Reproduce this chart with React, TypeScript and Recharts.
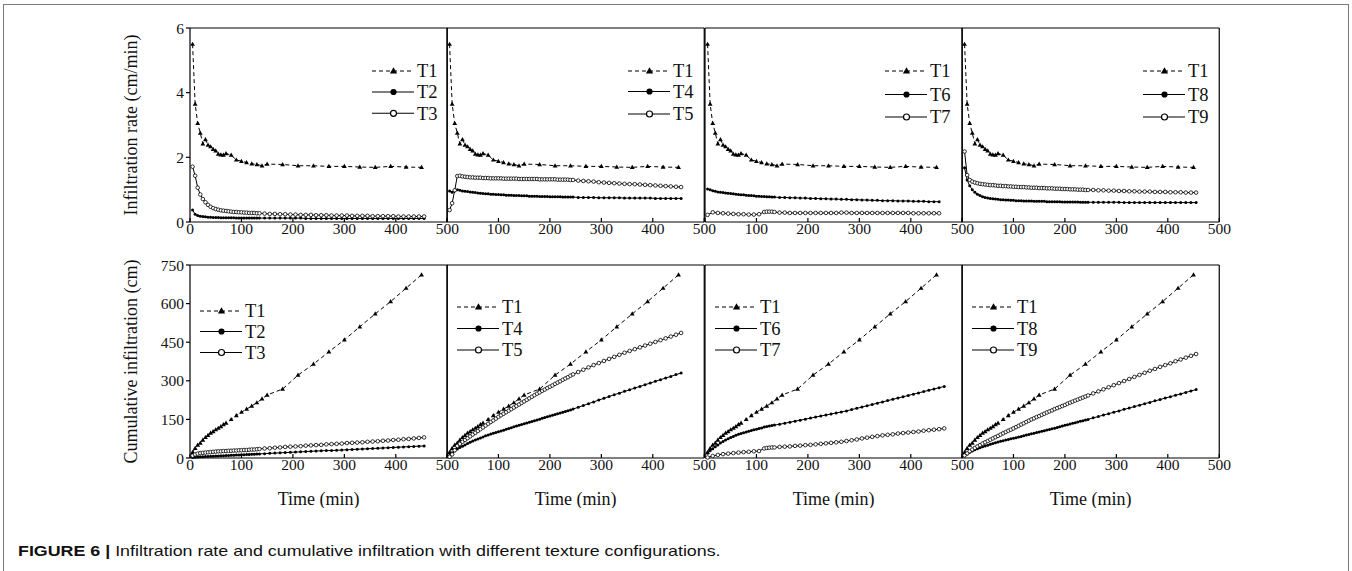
import React from 'react';
import { LineChart, Line, XAxis, YAxis, ReferenceLine, Legend } from 'recharts';

const FONT = '"Liberation Serif", "Times New Roman", serif';
const INK = '#111';

// sampling times (min)
const tT1 = [5, 10, 15, 20, 25, 30, 35, 40, 45, 50, 55, 60, 65, 70, 80, 90, 100, 110, 120, 130, 140, 150, 180, 210, 240, 270, 300, 330, 360, 390, 420, 450];
const tShort = [5, 10, 15, 20, 25, 30, 35, 40, 45, 50, 55, 60, 65, 70, 75, 80, 85, 90, 95, 100, 105, 110, 115, 120, 125, 130, 135,
  145, 155, 165, 175, 185, 195, 205, 215, 225, 235, 245, 255, 265, 275, 285, 295, 305, 315, 325, 335, 345, 355, 365, 375, 385, 395, 405, 415, 425, 435, 445, 455];
const tLong = [5, 10, 15, 20, 25, 30, 35, 40, 45, 50, 55, 60, 65, 70, 75, 80, 85, 90, 95, 100, 105, 110, 115, 120, 125, 130, 135, 140, 145, 150,
  155, 160, 165, 170, 175, 180, 185, 190, 195, 200, 205, 210, 215, 220, 225, 230, 235, 240, 245,
  255, 265, 275, 285, 295, 305, 315, 325, 335, 345, 355, 365, 375, 385, 395, 405, 415, 425, 435, 445, 455];
const tT7 = [5, 15, 25, 35, 45, 55, 65, 75, 85, 95, 105, 115, 120, 125, 130, 135,
  145, 155, 165, 175, 185, 195, 205, 215, 225, 235, 245, 255, 265, 275, 285, 295, 305, 315, 325, 335, 345, 355, 365, 375, 385, 395, 405, 415, 425, 435, 445, 455];
const tShortB = [5, 10, 15, 20, 25, 30, 35, 40, 45, 50, 55, 60, 65, 70, 75, 80, 85, 90, 95, 100, 105, 110, 115, 120, 125, 130, 135,
  145, 155, 165, 175, 185, 195, 205, 215, 225, 235, 245, 255, 265, 275, 285, 295, 305, 315, 325, 335, 345, 355, 365, 375, 385, 395, 405, 415, 425, 435, 445, 455, 465];
const tT7B = [5, 15, 25, 35, 45, 55, 65, 75, 85, 95, 105, 115, 120, 125, 130, 135,
  145, 155, 165, 175, 185, 195, 205, 215, 225, 235, 245, 255, 265, 275, 285, 295, 305, 315, 325, 335, 345, 355, 365, 375, 385, 395, 405, 415, 425, 435, 445, 455, 465];

// infiltration rate (cm/min)
const rateT1 = [5.5, 3.65, 3.05, 2.75, 2.42, 2.55, 2.38, 2.33, 2.25, 2.2, 2.1, 2.08, 2.07, 2.12, 2.07, 1.92, 1.88, 1.84, 1.8, 1.78, 1.74, 1.79, 1.78, 1.74, 1.74, 1.72, 1.72, 1.7, 1.69, 1.72, 1.7, 1.69];
const rateT2 = [0.37, 0.24, 0.2, 0.18, 0.17, 0.16, 0.15, 0.15, 0.14, 0.14, 0.14, 0.13, 0.13, 0.13, 0.13, 0.13, 0.13, 0.12, 0.12, 0.12, 0.12, 0.12, 0.12, 0.12, 0.12, 0.12, 0.12,
  0.12, 0.12, 0.12, 0.12, 0.12, 0.12, 0.12, 0.12, 0.11, 0.11, 0.11, 0.11, 0.11, 0.11, 0.11, 0.11, 0.11, 0.11, 0.11, 0.11, 0.11, 0.11, 0.11, 0.11, 0.11, 0.11, 0.11, 0.11, 0.11, 0.11, 0.11, 0.11];
const rateT3 = [1.71, 1.43, 1.06, 0.85, 0.71, 0.61, 0.53, 0.47, 0.43, 0.4, 0.38, 0.36, 0.35, 0.34, 0.33, 0.32, 0.31, 0.31, 0.3, 0.3, 0.29, 0.29, 0.28, 0.28, 0.28, 0.27, 0.27,
  0.26, 0.25, 0.25, 0.24, 0.24, 0.23, 0.23, 0.22, 0.22, 0.22, 0.21, 0.21, 0.21, 0.2, 0.2, 0.2, 0.2, 0.19, 0.19, 0.19, 0.19, 0.18, 0.18, 0.18, 0.18, 0.18, 0.17, 0.17, 0.17, 0.17, 0.17, 0.17];
const rateT4 = [0.96, 0.92, 0.97, 1.0, 0.98, 0.96, 0.95, 0.94, 0.93, 0.92, 0.91, 0.9, 0.89, 0.88, 0.87, 0.87, 0.86, 0.86, 0.85, 0.85, 0.84, 0.84, 0.83, 0.83, 0.83,
  0.82, 0.82, 0.82, 0.81, 0.81, 0.81, 0.8, 0.8, 0.8, 0.8, 0.79, 0.79, 0.79, 0.79, 0.78, 0.78, 0.78, 0.78, 0.78, 0.77, 0.77, 0.77, 0.77, 0.77,
  0.76, 0.76, 0.76, 0.76, 0.75, 0.75, 0.75, 0.75, 0.75, 0.74, 0.74, 0.74, 0.74, 0.74, 0.74, 0.73, 0.73, 0.73, 0.73, 0.73, 0.73];
const rateT5 = [0.37, 0.58, 0.98, 1.42, 1.43, 1.41, 1.4, 1.39, 1.38, 1.38, 1.37, 1.37, 1.37, 1.36, 1.36, 1.36, 1.35, 1.35, 1.35, 1.35, 1.35, 1.34, 1.34, 1.34, 1.34,
  1.34, 1.34, 1.33, 1.33, 1.33, 1.33, 1.33, 1.33, 1.33, 1.33, 1.32, 1.32, 1.32, 1.32, 1.32, 1.32, 1.32, 1.31, 1.31, 1.31, 1.31, 1.31, 1.3, 1.3,
  1.28, 1.27, 1.26, 1.25, 1.23, 1.22, 1.21, 1.2, 1.19, 1.18, 1.17, 1.17, 1.16, 1.15, 1.14, 1.13, 1.12, 1.11, 1.1, 1.09, 1.08];
const rateT6 = [1.02, 1.0, 0.97, 0.95, 0.93, 0.92, 0.91, 0.9, 0.89, 0.88, 0.87, 0.86, 0.85, 0.84, 0.84, 0.83, 0.82, 0.82, 0.81, 0.8, 0.8, 0.79, 0.79, 0.78, 0.78, 0.77, 0.77,
  0.76, 0.76, 0.75, 0.75, 0.74, 0.74, 0.73, 0.73, 0.72, 0.72, 0.71, 0.71, 0.7, 0.7, 0.69, 0.69, 0.68, 0.68, 0.67, 0.67, 0.66, 0.66, 0.66, 0.65, 0.65, 0.65, 0.64, 0.64, 0.64, 0.63, 0.63, 0.63];
const rateT7 = [0.22, 0.3, 0.28, 0.27, 0.26, 0.25, 0.24, 0.24, 0.23, 0.23, 0.24, 0.31, 0.32, 0.32, 0.32, 0.31,
  0.29, 0.29, 0.28, 0.28, 0.28, 0.28, 0.28, 0.28, 0.28, 0.28, 0.28, 0.28, 0.29, 0.29, 0.28, 0.28, 0.28, 0.28, 0.28, 0.28, 0.28, 0.28, 0.28, 0.28, 0.28, 0.28, 0.27, 0.27, 0.27, 0.27, 0.27, 0.27];
const rateT8 = [1.68, 1.3, 1.12, 1.0, 0.92, 0.86, 0.82, 0.78, 0.76, 0.74, 0.73, 0.72, 0.71, 0.7, 0.69, 0.69, 0.68, 0.68, 0.67, 0.67, 0.66, 0.66, 0.66, 0.65, 0.65,
  0.65, 0.65, 0.64, 0.64, 0.64, 0.64, 0.64, 0.63, 0.63, 0.63, 0.63, 0.63, 0.63, 0.62, 0.62, 0.62, 0.62, 0.62, 0.62, 0.62, 0.61, 0.61, 0.61, 0.61,
  0.61, 0.61, 0.61, 0.61, 0.61, 0.61, 0.6, 0.6, 0.6, 0.6, 0.6, 0.6, 0.6, 0.6, 0.6, 0.6, 0.6, 0.6, 0.6, 0.6, 0.6];
const rateT9 = [2.18, 1.45, 1.3, 1.25, 1.22, 1.2, 1.18, 1.17, 1.16, 1.15, 1.14, 1.14, 1.13, 1.12, 1.12, 1.11, 1.11, 1.1, 1.1, 1.09, 1.09, 1.08, 1.08, 1.08, 1.07,
  1.07, 1.06, 1.06, 1.06, 1.05, 1.05, 1.05, 1.04, 1.04, 1.04, 1.03, 1.03, 1.03, 1.02, 1.02, 1.02, 1.01, 1.01, 1.01, 1.0, 1.0, 1.0, 0.99, 0.99,
  0.99, 0.98, 0.98, 0.97, 0.97, 0.96, 0.96, 0.95, 0.95, 0.94, 0.94, 0.94, 0.93, 0.93, 0.93, 0.92, 0.92, 0.92, 0.91, 0.91, 0.91];

// cumulative infiltration (cm)
const cumT1 = [22, 38, 50, 58, 70, 80, 88, 97, 103, 110, 116, 122, 130, 136, 150, 165, 178, 190, 202, 215, 230, 245, 268, 322, 365, 413, 459, 510, 560, 608, 660, 712];
const cumT2 = [2, 3, 4, 5, 5, 6, 6, 7, 7, 8, 8, 9, 9, 10, 10, 11, 11, 12, 12, 13, 13, 14, 14, 15, 15, 16, 16,
  17, 18, 19, 20, 21, 22, 23, 24, 25, 26, 27, 28, 29, 29, 30, 31, 32, 33, 34, 35, 36, 37, 38, 39, 40, 41, 42, 43, 44, 45, 46, 47];
const cumT3 = [9, 14, 17, 19, 20, 21, 22, 23, 24, 25, 26, 26, 27, 27, 28, 28, 29, 29, 30, 30, 31, 31, 32, 33, 33, 34, 35,
  37, 38, 40, 41, 43, 44, 45, 46, 48, 49, 50, 51, 53, 54, 55, 56, 58, 59, 60, 61, 63, 64, 65, 67, 68, 70, 71, 73, 74, 76, 78, 80];
const cumT4 = [10, 20, 28, 35, 41, 46, 51, 56, 61, 66, 70, 74, 78, 82, 86, 89, 93, 96, 99, 102, 105, 108, 112, 115, 118,
  121, 124, 127, 130, 133, 136, 139, 142, 145, 148, 151, 154, 157, 160, 163, 166, 169, 172, 175, 178, 181, 184, 187, 190,
  197, 204, 211, 218, 225, 232, 239, 246, 252, 259, 265, 272, 278, 285, 291, 298, 304, 311, 317, 324, 330];
const cumT5 = [5, 14, 30, 47, 55, 63, 70, 77, 84, 91, 98, 105, 112, 119, 126, 133, 140, 146, 153, 160, 166, 172, 178, 184, 190,
  196, 202, 208, 214, 220, 226, 232, 238, 244, 250, 255, 261, 266, 272, 277, 282, 288, 293, 298, 304, 309, 314, 320, 325,
  334, 343, 352, 361, 369, 377, 385, 393, 401, 409, 416, 423, 430, 437, 444, 451, 458, 465, 472, 479, 486];
const cumT6 = [18, 28, 36, 44, 51, 58, 64, 70, 75, 80, 84, 88, 92, 95, 98, 101, 104, 107, 110, 112, 115, 117, 120, 122, 124, 126, 128,
  131, 135, 139, 143, 147, 151, 155, 159, 163, 167, 171, 175, 179, 183, 188, 193, 198, 203, 208, 213, 218, 223, 228, 233, 238, 243, 248, 253, 258, 263, 268, 273, 278];
const cumT7 = [2, 8, 12, 15, 17, 19, 21, 23, 24, 26, 27, 37, 39, 40, 41, 41,
  43, 44, 45, 47, 48, 50, 51, 53, 55, 57, 59, 61, 63, 66, 69, 72, 76, 79, 82, 85, 88, 90, 92, 95, 97, 99, 101, 103, 106, 108, 110, 112, 115];
const cumT8 = [8, 16, 22, 27, 32, 36, 40, 44, 47, 50, 53, 56, 59, 62, 65, 67, 70, 72, 75, 77, 79, 82, 84, 86, 89,
  91, 94, 96, 99, 101, 104, 106, 109, 111, 114, 116, 119, 121, 124, 127, 129, 132, 135, 137, 140, 143, 145, 148, 150,
  156, 161, 167, 172, 178, 183, 189, 194, 200, 205, 211, 216, 222, 227, 233, 238, 244, 249, 255, 260, 266];
const cumT9 = [10, 18, 26, 33, 39, 45, 50, 56, 61, 66, 71, 76, 81, 86, 91, 96, 101, 106, 110, 115, 120, 125, 130, 135, 140,
  145, 150, 154, 159, 163, 168, 172, 177, 181, 185, 190, 194, 198, 202, 206, 211, 215, 219, 223, 227, 231, 235, 239, 243,
  251, 259, 267, 275, 283, 291, 299, 307, 315, 323, 331, 339, 346, 354, 361, 368, 376, 383, 390, 397, 404];

const xTicks = [0, 100, 200, 300, 400, 500];
const rateTicks = [0, 2, 4, 6];
const cumTicks = [0, 150, 300, 450, 600, 750];

type Mark = 'tri' | 'dot' | 'ring';
type Series = { name: string; t: number[]; v: number[]; mark: Mark };

const ser = (name: string, t: number[], v: number[], mark: Mark): Series => ({ name, t, v, mark });

const ratePanels: Series[][] = [
  [ser('T1', tT1, rateT1, 'tri'), ser('T2', tShort, rateT2, 'dot'), ser('T3', tShort, rateT3, 'ring')],
  [ser('T1', tT1, rateT1, 'tri'), ser('T4', tLong, rateT4, 'dot'), ser('T5', tLong, rateT5, 'ring')],
  [ser('T1', tT1, rateT1, 'tri'), ser('T6', tShort, rateT6, 'dot'), ser('T7', tT7, rateT7, 'ring')],
  [ser('T1', tT1, rateT1, 'tri'), ser('T8', tLong, rateT8, 'dot'), ser('T9', tLong, rateT9, 'ring')],
];
const cumPanels: Series[][] = [
  [ser('T1', tT1, cumT1, 'tri'), ser('T2', tShort, cumT2, 'dot'), ser('T3', tShort, cumT3, 'ring')],
  [ser('T1', tT1, cumT1, 'tri'), ser('T4', tLong, cumT4, 'dot'), ser('T5', tLong, cumT5, 'ring')],
  [ser('T1', tT1, cumT1, 'tri'), ser('T6', tShortB, cumT6, 'dot'), ser('T7', tT7B, cumT7, 'ring')],
  [ser('T1', tT1, cumT1, 'tri'), ser('T8', tLong, cumT8, 'dot'), ser('T9', tLong, cumT9, 'ring')],
];

// layout (page pixels)
const PLOT_X0 = 190;
const PLOT_W = 257.25;
const MR = 22;
const ROWS = {
  rate: {
    top: 28, h: 194, xh: 30, max: 6, ticks: rateTicks, title: 'Infiltration rate (cm/min)', panels: ratePanels,
    legends: [
      { x: 371.7, rows: [71, 92, 113.3] },
      { x: 628.3, rows: [71, 91.5, 114] },
      { x: 885.3, rows: [70.5, 94, 116.5] },
      { x: 1143.3, rows: [70.5, 94, 116.5] },
    ],
  },
  cum: {
    top: 265, h: 193, xh: 50, max: 750, ticks: cumTicks, title: 'Cumulative infiltration (cm)', panels: cumPanels,
    legends: [
      { x: 200, rows: [311, 331.5, 352.5] },
      { x: 456.7, rows: [307, 328.5, 350] },
      { x: 715, rows: [307, 328.5, 350] },
      { x: 971.7, rows: [307, 328.5, 350] },
    ],
  },
};

function Marker({ cx, cy, mark, big }: { cx?: number; cy?: number; mark: Mark; big?: boolean }) {
  if (cx == null || cy == null) return <g />;
  if (mark === 'tri') {
    const w = big ? 3.6 : 2.4;
    const h = big ? 6.4 : 4.2;
    return <path d={`M${cx},${cy - h * 0.6}L${cx + w},${cy + h * 0.4}L${cx - w},${cy + h * 0.4}Z`} fill="#000" />;
  }
  if (mark === 'dot') return <circle cx={cx} cy={cy} r={big ? 3.1 : 1.5} fill="#000" />;
  return <circle cx={cx} cy={cy} r={big ? 3 : 1.8} fill="#fff" stroke="#000" strokeWidth={big ? 1.2 : 0.8} />;
}

function LegendBox({ series, rows }: { series: Series[]; rows: number[] }) {
  const y0 = rows[0] - 10;
  return (
    <svg width={90} height={rows[2] - rows[0] + 20} style={{ display: 'block', overflow: 'visible' }}>
      {series.map((sr, k) => {
        const y = rows[k] - y0;
        return (
          <g key={sr.name}>
            <line x1={0} x2={42} y1={y} y2={y} stroke="#000" strokeWidth={1.1}
              strokeDasharray={sr.mark === 'tri' ? '4 3' : undefined} />
            <Marker cx={21.5} cy={y} mark={sr.mark} big />
            <text x={45} y={y + 6.3} fill={INK} style={{ fontFamily: FONT, fontSize: 18.5 }}>{sr.name}</text>
          </g>
        );
      })}
    </svg>
  );
}

function Panel({ row, i }: { row: 'rate' | 'cum'; i: number }) {
  const cfg = ROWS[row];
  const series = cfg.panels[i];
  const yw = i === 0 ? 118 : 40;
  const left = PLOT_X0 + i * PLOT_W - yw;
  const top = cfg.top - 10;
  const width = yw + PLOT_W + MR;
  const height = 10 + cfg.h + cfg.xh;
  const lg = cfg.legends[i];
  const tickStyle = { fontSize: 15.5, fill: INK, fontFamily: FONT, style: { fontFamily: FONT } };
  const titleStyle = { fontSize: 18, fontFamily: FONT, fill: INK, fontWeight: 400 };
  // the "0" of panels 2-4 sits under the "500" of the panel before it
  const fmtX = (v: number) => (i > 0 && v === 0 ? '' : String(v));
  return (
    <div style={{ position: 'absolute', left, top, fontFamily: FONT }}>
      <LineChart width={width} height={height} margin={{ top: 10, right: MR, bottom: 0, left: 0 }}>
        <XAxis type="number" dataKey="t" domain={[0, 500]} ticks={xTicks} interval={0} height={cfg.xh}
          tickSize={-4} tickMargin={5} stroke="#000" strokeWidth={1.2} tick={tickStyle} tickFormatter={fmtX}
          label={row === 'cum' ? { value: 'Time (min)', position: 'insideBottom', offset: 3, style: titleStyle } : undefined} />
        <YAxis type="number" domain={[0, cfg.max]} ticks={cfg.ticks} interval={0} width={yw}
          tickSize={4} tickMargin={2} stroke="#000" strokeWidth={1.2} tick={i === 0 ? tickStyle : false}
          label={i === 0 ? { value: cfg.title, angle: -90, position: 'center', style: titleStyle } : undefined} />
        <ReferenceLine y={cfg.max} stroke="#000" strokeWidth={1.2} />
        <ReferenceLine x={500} stroke="#000" strokeWidth={1.2} />
        {series.map((sr) => (
          <Line key={sr.name} data={sr.t.map((t, k) => ({ t, v: sr.v[k] }))} dataKey="v" name={sr.name} type="linear"
            stroke="#000" strokeWidth={1} strokeDasharray={sr.mark === 'tri' ? '4 3' : undefined}
            dot={(p: any) => <Marker key={p.index} cx={p.cx} cy={p.cy} mark={sr.mark} />}
            activeDot={false} isAnimationActive={false} />
        ))}
        <Legend layout="vertical" align="center" verticalAlign="middle"
          wrapperStyle={{ left: lg.x - left, top: lg.rows[0] - 10 - top, width: 90 }}
          content={() => <LegendBox series={series} rows={lg.rows} />} />
      </LineChart>
    </div>
  );
}

export default function App() {
  return (
    <div style={{ position: 'absolute', left: 0, top: 0, width: 1352, height: 571, background: '#fff', overflow: 'hidden' }}>
      <div style={{ position: 'absolute', left: 3, top: 4, width: 1346, height: 567, boxSizing: 'border-box',
        borderTop: '1.5px solid #7a7a7a', borderLeft: '1.5px solid #7a7a7a', borderRight: '1.5px solid #7a7a7a' }} />
      {[0, 1, 2, 3].map((i) => <Panel key={`r${i}`} row="rate" i={i} />)}
      {[0, 1, 2, 3].map((i) => <Panel key={`c${i}`} row="cum" i={i} />)}
      <div style={{ position: 'absolute', left: 18, top: 544, fontFamily: '"Liberation Sans", Arial, sans-serif',
        fontSize: 14.5, lineHeight: '15px', color: '#111', whiteSpace: 'nowrap', transform: 'scaleX(1.23)', transformOrigin: '0 0' }}>
        <b>FIGURE 6 |</b> Infiltration rate and cumulative infiltration with different texture configurations.
      </div>
    </div>
  );
}
